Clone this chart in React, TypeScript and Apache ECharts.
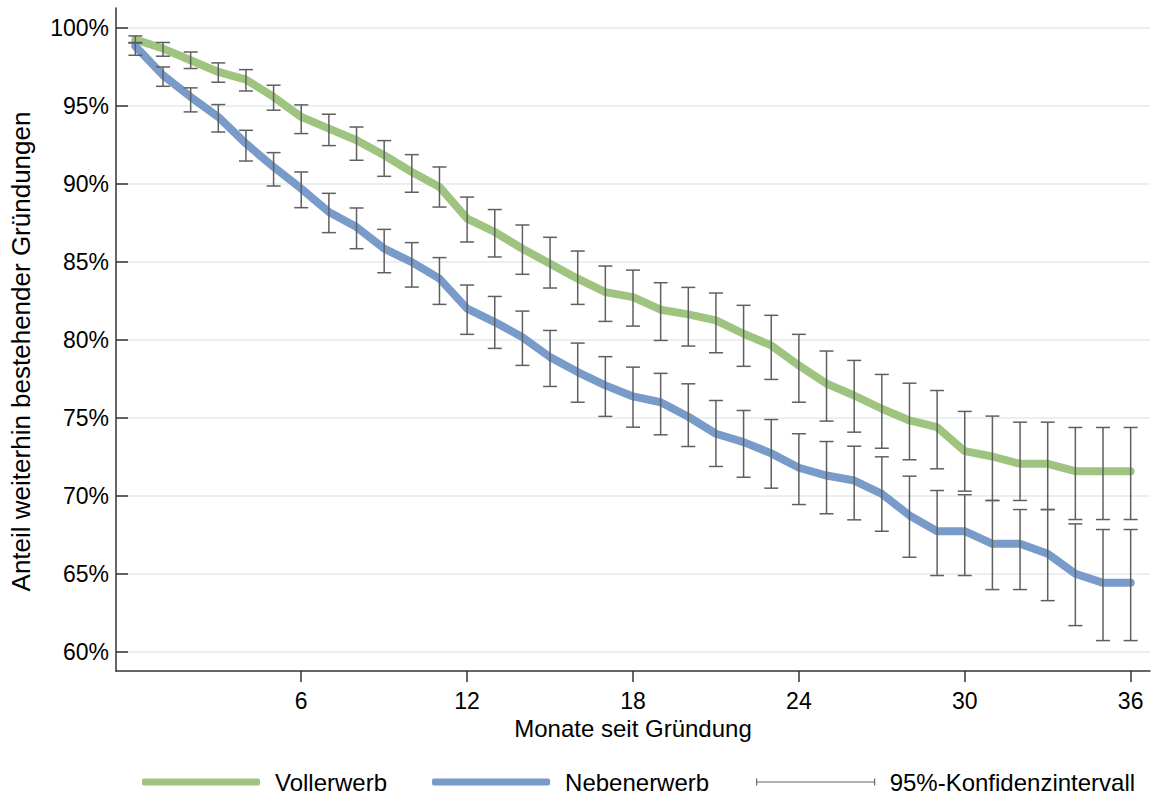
import React, { useEffect, useRef } from "react";
import * as echarts from "echarts";

const months: number[] = [
  0, 1, 2, 3, 4, 5, 6, 7, 8, 9, 10, 11, 12, 13, 14, 15, 16, 17, 18,
  19, 20, 21, 22, 23, 24, 25, 26, 27, 28, 29, 30, 31, 32, 33, 34, 35, 36,
];

const vollerwerb: number[] = [
  99.23, 98.65, 97.9, 97.15, 96.66, 95.55, 94.27, 93.52, 92.77, 91.81, 90.74,
  89.78, 87.75, 86.89, 85.82, 84.86, 83.9, 83.04, 82.72, 81.91, 81.61, 81.23,
  80.37, 79.62, 78.34, 77.17, 76.41, 75.56, 74.81, 74.38, 72.84, 72.5, 72.03,
  72.03, 71.56, 71.56, 71.56,
];
const vollerwerbHi: number[] = [
  99.46, 99.04, 98.43, 97.73, 97.3, 96.3, 95.04, 94.44, 93.62, 92.75, 91.85,
  91.06, 89.13, 88.33, 87.34, 86.55, 85.67, 84.71, 84.45, 83.64, 83.34, 82.98,
  82.19, 81.55, 80.33, 79.26, 78.66, 77.76, 77.2, 76.73, 75.39, 75.09, 74.7,
  74.7, 74.36, 74.36, 74.36,
];
const vollerwerbLo: number[] = [
  99.0, 98.16, 97.37, 96.49, 95.93, 94.7, 93.2, 92.43, 91.49, 90.46, 89.44,
  88.49, 86.25, 85.29, 84.18, 83.3, 82.25, 81.16, 80.86, 79.94, 79.58, 79.15,
  78.28, 77.44, 75.98, 74.77, 74.06, 73.03, 72.29, 71.71, 70.28, 69.68, 69.68,
  69.1, 68.46, 68.46, 68.46,
];

const nebenerwerb: number[] = [
  98.8, 96.94, 95.55, 94.27, 92.56, 91.06, 89.67, 88.17, 87.21, 85.82, 84.96,
  83.9, 81.98, 81.12, 80.15, 78.87, 77.91, 77.06, 76.35, 75.98, 75.05, 73.96,
  73.42, 72.7, 71.78, 71.28, 70.96, 70.11, 68.72, 67.71, 67.71, 66.9, 66.9,
  66.26, 64.98, 64.4, 64.4,
];
const nebenerwerbHi: number[] = [
  99.04, 97.47, 96.13, 95.06, 93.41, 91.98, 90.74, 89.37, 88.43, 87.06, 86.21,
  85.25, 83.49, 82.76, 81.82, 80.58, 79.77, 78.9, 78.23, 77.83, 77.16, 76.09,
  75.45, 74.87, 73.96, 73.46, 73.16, 72.48, 71.24, 70.32, 70.05, 69.68, 69.1,
  69.1, 68.18, 67.82, 67.82,
];
const nebenerwerbLo: number[] = [
  98.22, 96.23, 94.59, 93.3, 91.44, 89.84, 88.45, 86.85, 85.82, 84.28, 83.36,
  82.25, 80.33, 79.43, 78.34, 76.99, 75.98, 75.07, 74.38, 73.89, 73.14, 71.86,
  71.17, 70.47, 69.42, 68.83, 68.44, 67.71, 66.04, 64.87, 64.87, 63.97, 63.97,
  63.26, 61.66, 60.7, 60.7,
];

const xTicks: number[] = [6, 12, 18, 24, 30, 36];
const yTicks: number[] = [60, 65, 70, 75, 80, 85, 90, 95, 100];

const GREEN = "#9fc480";
const BLUE = "#799bca";
const FONT = "'Liberation Sans', Arial, Helvetica, sans-serif";

export default function App() {
  const ref = useRef<HTMLDivElement>(null);

  useEffect(() => {
    if (!ref.current) return;
    const chart = echarts.init(ref.current, null, { renderer: "svg" });

    const ciData: number[][] = [];
    months.forEach((m, i) => {
      ciData.push([m, vollerwerbLo[i], vollerwerbHi[i]]);
    });
    months.forEach((m, i) => {
      ciData.push([m, nebenerwerbLo[i], nebenerwerbHi[i]]);
    });

    const option: any = {
      animation: false,
      backgroundColor: "#ffffff",
      textStyle: { fontFamily: FONT },
      grid: { left: 115, right: 3, top: 8, bottom: 128, containLabel: false },
      xAxis: {
        type: "value",
        min: -0.7,
        max: 36.7,
        name: "Monate seit Gründung",
        nameLocation: "middle",
        nameGap: 41,
        nameTextStyle: { fontSize: 24, color: "#000", fontFamily: FONT },
        axisLine: { show: true, onZero: false, lineStyle: { color: "#333", width: 1.5 } },
        axisTick: {
          show: true,
          inside: false,
          length: 11,
          customValues: xTicks,
          lineStyle: { color: "#333", width: 1.5 },
        },
        axisLabel: {
          customValues: xTicks,
          fontSize: 23,
          color: "#000",
          margin: 18,
          fontFamily: FONT,
        },
        splitLine: { show: false },
      },
      yAxis: {
        type: "value",
        min: 58.75,
        max: 101.25,
        name: "Anteil weiterhin bestehender Gründungen",
        nameLocation: "middle",
        nameGap: 82,
        nameTextStyle: {
          fontSize: 26,
          color: "#000",
          fontFamily: FONT,
          padding: [0, 24, 0, 0],
        },
        axisLine: { show: true, onZero: false, lineStyle: { color: "#333", width: 1.5 } },
        axisTick: {
          show: true,
          inside: true,
          length: 12,
          customValues: yTicks,
          lineStyle: { color: "#333", width: 1.5 },
        },
        axisLabel: {
          customValues: yTicks,
          fontSize: 23,
          color: "#000",
          margin: 7,
          fontFamily: FONT,
          formatter: (v: number) => `${v}%`,
        },
        splitLine: {
          show: true,
          customValues: yTicks,
          lineStyle: { color: "#e9f0f2", width: 2 },
        },
      },
      legend: {
        left: 137,
        top: 765,
        orient: "horizontal",
        itemWidth: 118,
        itemHeight: 7,
        itemGap: 45,
        symbolKeepAspect: false,
        textStyle: {
          fontSize: 24,
          color: "#000",
          fontFamily: FONT,
          padding: [0, 0, 0, 10],
        },
        data: [
          { name: "Vollerwerb", icon: "roundRect", itemStyle: { color: GREEN } },
          { name: "Nebenerwerb", icon: "roundRect", itemStyle: { color: BLUE } },
          {
            name: "95%-Konfidenzintervall",
            icon: "path://M0,0L0,12M0,6L100,6M100,0L100,12",
            itemStyle: { color: "none", borderColor: "#666", borderWidth: 1.2 },
          },
        ],
      },
      series: [
        {
          name: "Vollerwerb",
          type: "line",
          data: months.map((m, i) => [m, vollerwerb[i]]),
          showSymbol: false,
          symbol: "none",
          lineStyle: { color: GREEN, width: 8, cap: "round", join: "round" },
          itemStyle: { color: GREEN },
          z: 2,
        },
        {
          name: "Nebenerwerb",
          type: "line",
          data: months.map((m, i) => [m, nebenerwerb[i]]),
          showSymbol: false,
          symbol: "none",
          lineStyle: { color: BLUE, width: 8, cap: "round", join: "round" },
          itemStyle: { color: BLUE },
          z: 3,
        },
        {
          name: "95%-Konfidenzintervall",
          type: "custom",
          z: 4,
          data: ciData,
          itemStyle: { color: "#666" },
          encode: { x: 0, y: [1, 2] },
          renderItem: (params: any, api: any) => {
            const x = api.value(0);
            const lo = api.coord([x, api.value(1)]);
            const hi = api.coord([x, api.value(2)]);
            const hw = 7;
            const style = { stroke: "#5f5f5f", lineWidth: 1.5, fill: "none" };
            return {
              type: "group",
              children: [
                { type: "line", shape: { x1: hi[0], y1: hi[1], x2: lo[0], y2: lo[1] }, style },
                { type: "line", shape: { x1: hi[0] - hw, y1: hi[1], x2: hi[0] + hw, y2: hi[1] }, style },
                { type: "line", shape: { x1: lo[0] - hw, y1: lo[1], x2: lo[0] + hw, y2: lo[1] }, style },
              ],
            };
          },
        },
      ],
    };

    chart.setOption(option);
    return () => chart.dispose();
  }, []);

  return (
    <div
      ref={ref}
      style={{ position: "fixed", left: 0, top: 0, width: 1153, height: 799, background: "#fff" }}
    />
  );
}
